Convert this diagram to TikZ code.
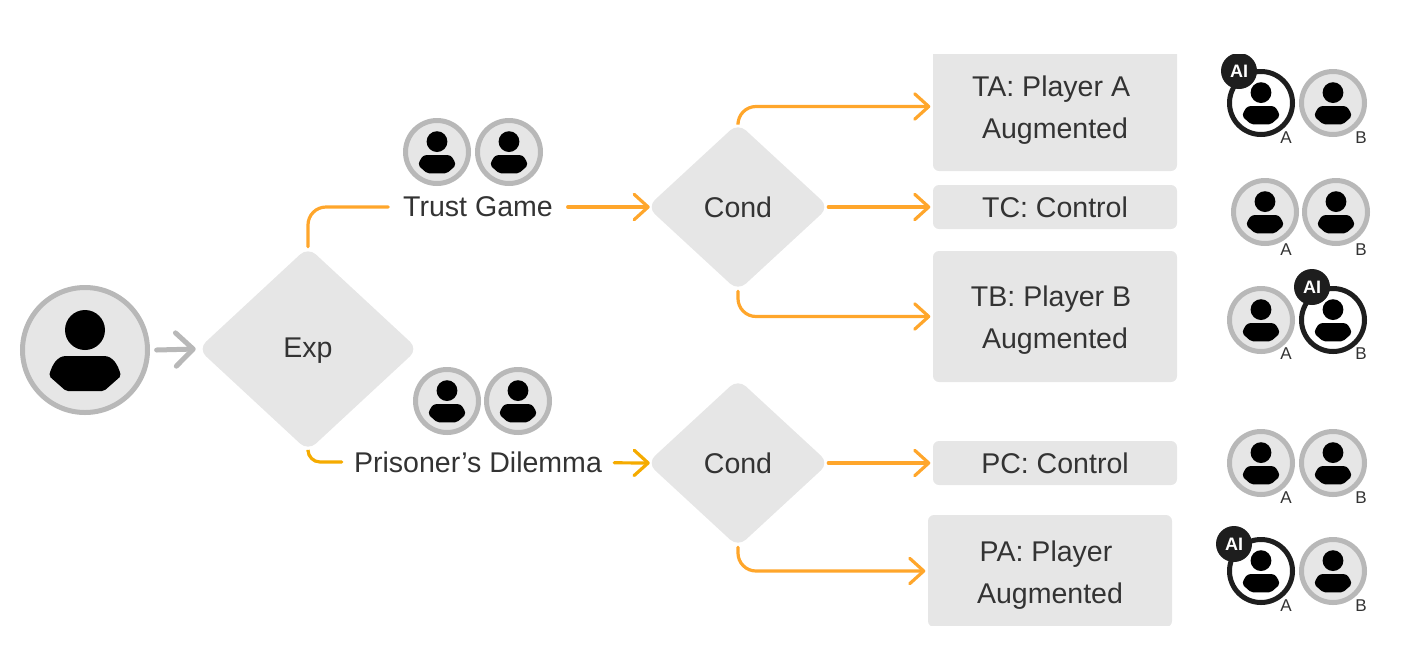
\documentclass[tikz,border=0pt]{standalone}
\usepackage{fontspec}
\setmainfont{Liberation Sans}
\usepackage{xcolor}
\usetikzlibrary{shapes.geometric, arrows.meta}
\definecolor{boxgray}{HTML}{E6E6E6}
\definecolor{ringgray}{HTML}{B8B8B8}
\definecolor{inkdark}{HTML}{1E1E1E}
\definecolor{textdark}{HTML}{333333}
\definecolor{floworange}{HTML}{FFA62B}
\definecolor{pdorange}{HTML}{F5AB00}
\tikzset{
  txt/.style={font=\fontsize{21.4}{31.5}\selectfont, text=textdark},
  choice/.style={diamond, fill=boxgray, rounded corners=8pt, inner sep=0pt, txt},
  cond/.style={choice, minimum width=182*.75pt, minimum height=168*.75pt},
  box/.style={rectangle, fill=boxgray, rounded corners=4.5pt, minimum width=244*.75pt, align=center, inner sep=0pt, outer sep=2pt, txt},
  game/.style={inner ysep=0pt, txt},
  flow/.style={-{Straight Barb[length=10.5pt, width=19pt, round]}, color=floworange, line width=2.4pt, line cap=round, rounded corners=13.5pt},
  nowait/.style={color=ringgray, line width=3.75pt, line cap=round, -{Straight Barb[length=13pt, width=25pt, round]}},
  avgray/.style={circle, fill=boxgray, draw=ringgray, line width=3.75pt, minimum size=47.25pt, inner sep=0pt},
  avdark/.style={avgray, fill=white, draw=inkdark},
  badge/.style={circle, fill=inkdark, text=white, minimum size=27pt, inner sep=0pt, font=\bfseries\fontsize{13.5}{15}\selectfont},
  tag/.style={inner sep=0pt, text=textdark, font=\fontsize{12.8}{15}\selectfont},
  person/.pic={
    \fill[black] (0,-20) circle (20);
    \fill[black, rounded corners=1.5pt] (-36,26) .. controls (-33,15) and (-28,6) .. (-17,6) -- (17,6) .. controls (28,6) and (33,15) .. (36,26) -- (19,41) -- (-19,41) -- cycle;
  }
}
\newcommand{\avatar}[3]{\node[#2] (#1) at (#3) {}; \pic[scale=.52] at (#1) {person};}
\newcommand{\lift}{\rule{0pt}{21.5pt}}
\begin{document}
\begin{tikzpicture}[x=.75pt, y=-.75pt]
\useasboundingbox (0,0) rectangle (1418,658);
\clip (0,54) rectangle (1418,625);

\node[avgray, minimum size=93.75pt] (user) at (85,350) {};
\pic at (user) {person};

\node[choice, minimum width=220*.75pt, minimum height=204*.75pt, text height=12.4pt, text depth=0pt] (exp) at (308,349) {Exp};
\node[cond] (c1) at (738,207) {Cond};
\node[cond] (c2) at (738,463) {Cond};

\node[game, inner xsep=11pt] (trust) at (478,207) {Trust Game};
\node[game, inner xsep=9pt] (pd) at (478,462) {Prisoner’s Dilemma};

\node[box, minimum height=129*.75pt] (ta) at (1055,106.5) {\lift TA: Player A~\mbox{}\\Augmented};
\node[box, minimum height=44*.75pt] (tc) at (1055,207) {TC: Control};
\node[box, minimum height=131*.75pt] (tb) at (1055,316.5) {\lift TB: Player B~\mbox{}\\Augmented};
\node[box, minimum height=44*.75pt] (pc) at (1055,463) {PC: Control};
\node[box, minimum height=112*.75pt] (pa) at (1050,571) {\lift PA: Player~\mbox{}\\Augmented};

\draw[nowait] ([xshift=5pt]user.east) -- ([xshift=-1.5pt]exp.west);
\draw[flow, -] (exp.north) |- (trust.west);
\draw[flow, -, color=pdorange, rounded corners=9pt] (exp.south) |- (pd.west);
\draw[flow] (trust) -- ([xshift=2.25pt]c1.west);
\draw[flow, color=pdorange] (pd) -- ([xshift=2.25pt]c2.west);
\draw[flow] (c1.north) |- (ta.west);
\draw[flow] ([xshift=-.75pt]c1.east) -- (tc.west);
\draw[flow] (c1.south) |- (tb.west);
\draw[flow] ([xshift=-.75pt]c2.east) -- (pc.west);
\draw[flow] (c2.south) |- (pa.west);

\avatar{t1}{avgray}{437,152}
\avatar{t2}{avgray}{509,152}
\avatar{p1}{avgray}{447,401}
\avatar{p2}{avgray}{518,401}

\avatar{taa}{avdark}{1261,103}
\avatar{tab}{avgray}{1333,103}
\node[badge] (aita) at (1239,71) {AI};
\node[tag] (lta) at (1286,138) {A};
\node[tag] (ltb) at (1361,138) {B};

\avatar{tca}{avgray}{1265,212}
\avatar{tcb}{avgray}{1336,212}
\node[tag] (lca) at (1286,250) {A};
\node[tag] (lcb) at (1361,250) {B};

\avatar{tba}{avgray}{1261,320}
\avatar{tbb}{avdark}{1333,320}
\node[badge] (aitb) at (1312,287) {AI};
\node[tag] (lba) at (1286,354) {A};
\node[tag] (lbb) at (1361,354) {B};

\avatar{pca}{avgray}{1261,463}
\avatar{pcb}{avgray}{1333,463}
\node[tag] (lpa) at (1286,498) {A};
\node[tag] (lpb) at (1361,498) {B};

\avatar{paa}{avdark}{1261,571}
\avatar{pab}{avgray}{1333,571}
\node[badge] (aipa) at (1234,544) {AI};
\node[tag] (lqa) at (1286,606) {A};
\node[tag] (lqb) at (1361,606) {B};
\end{tikzpicture}
\end{document}
